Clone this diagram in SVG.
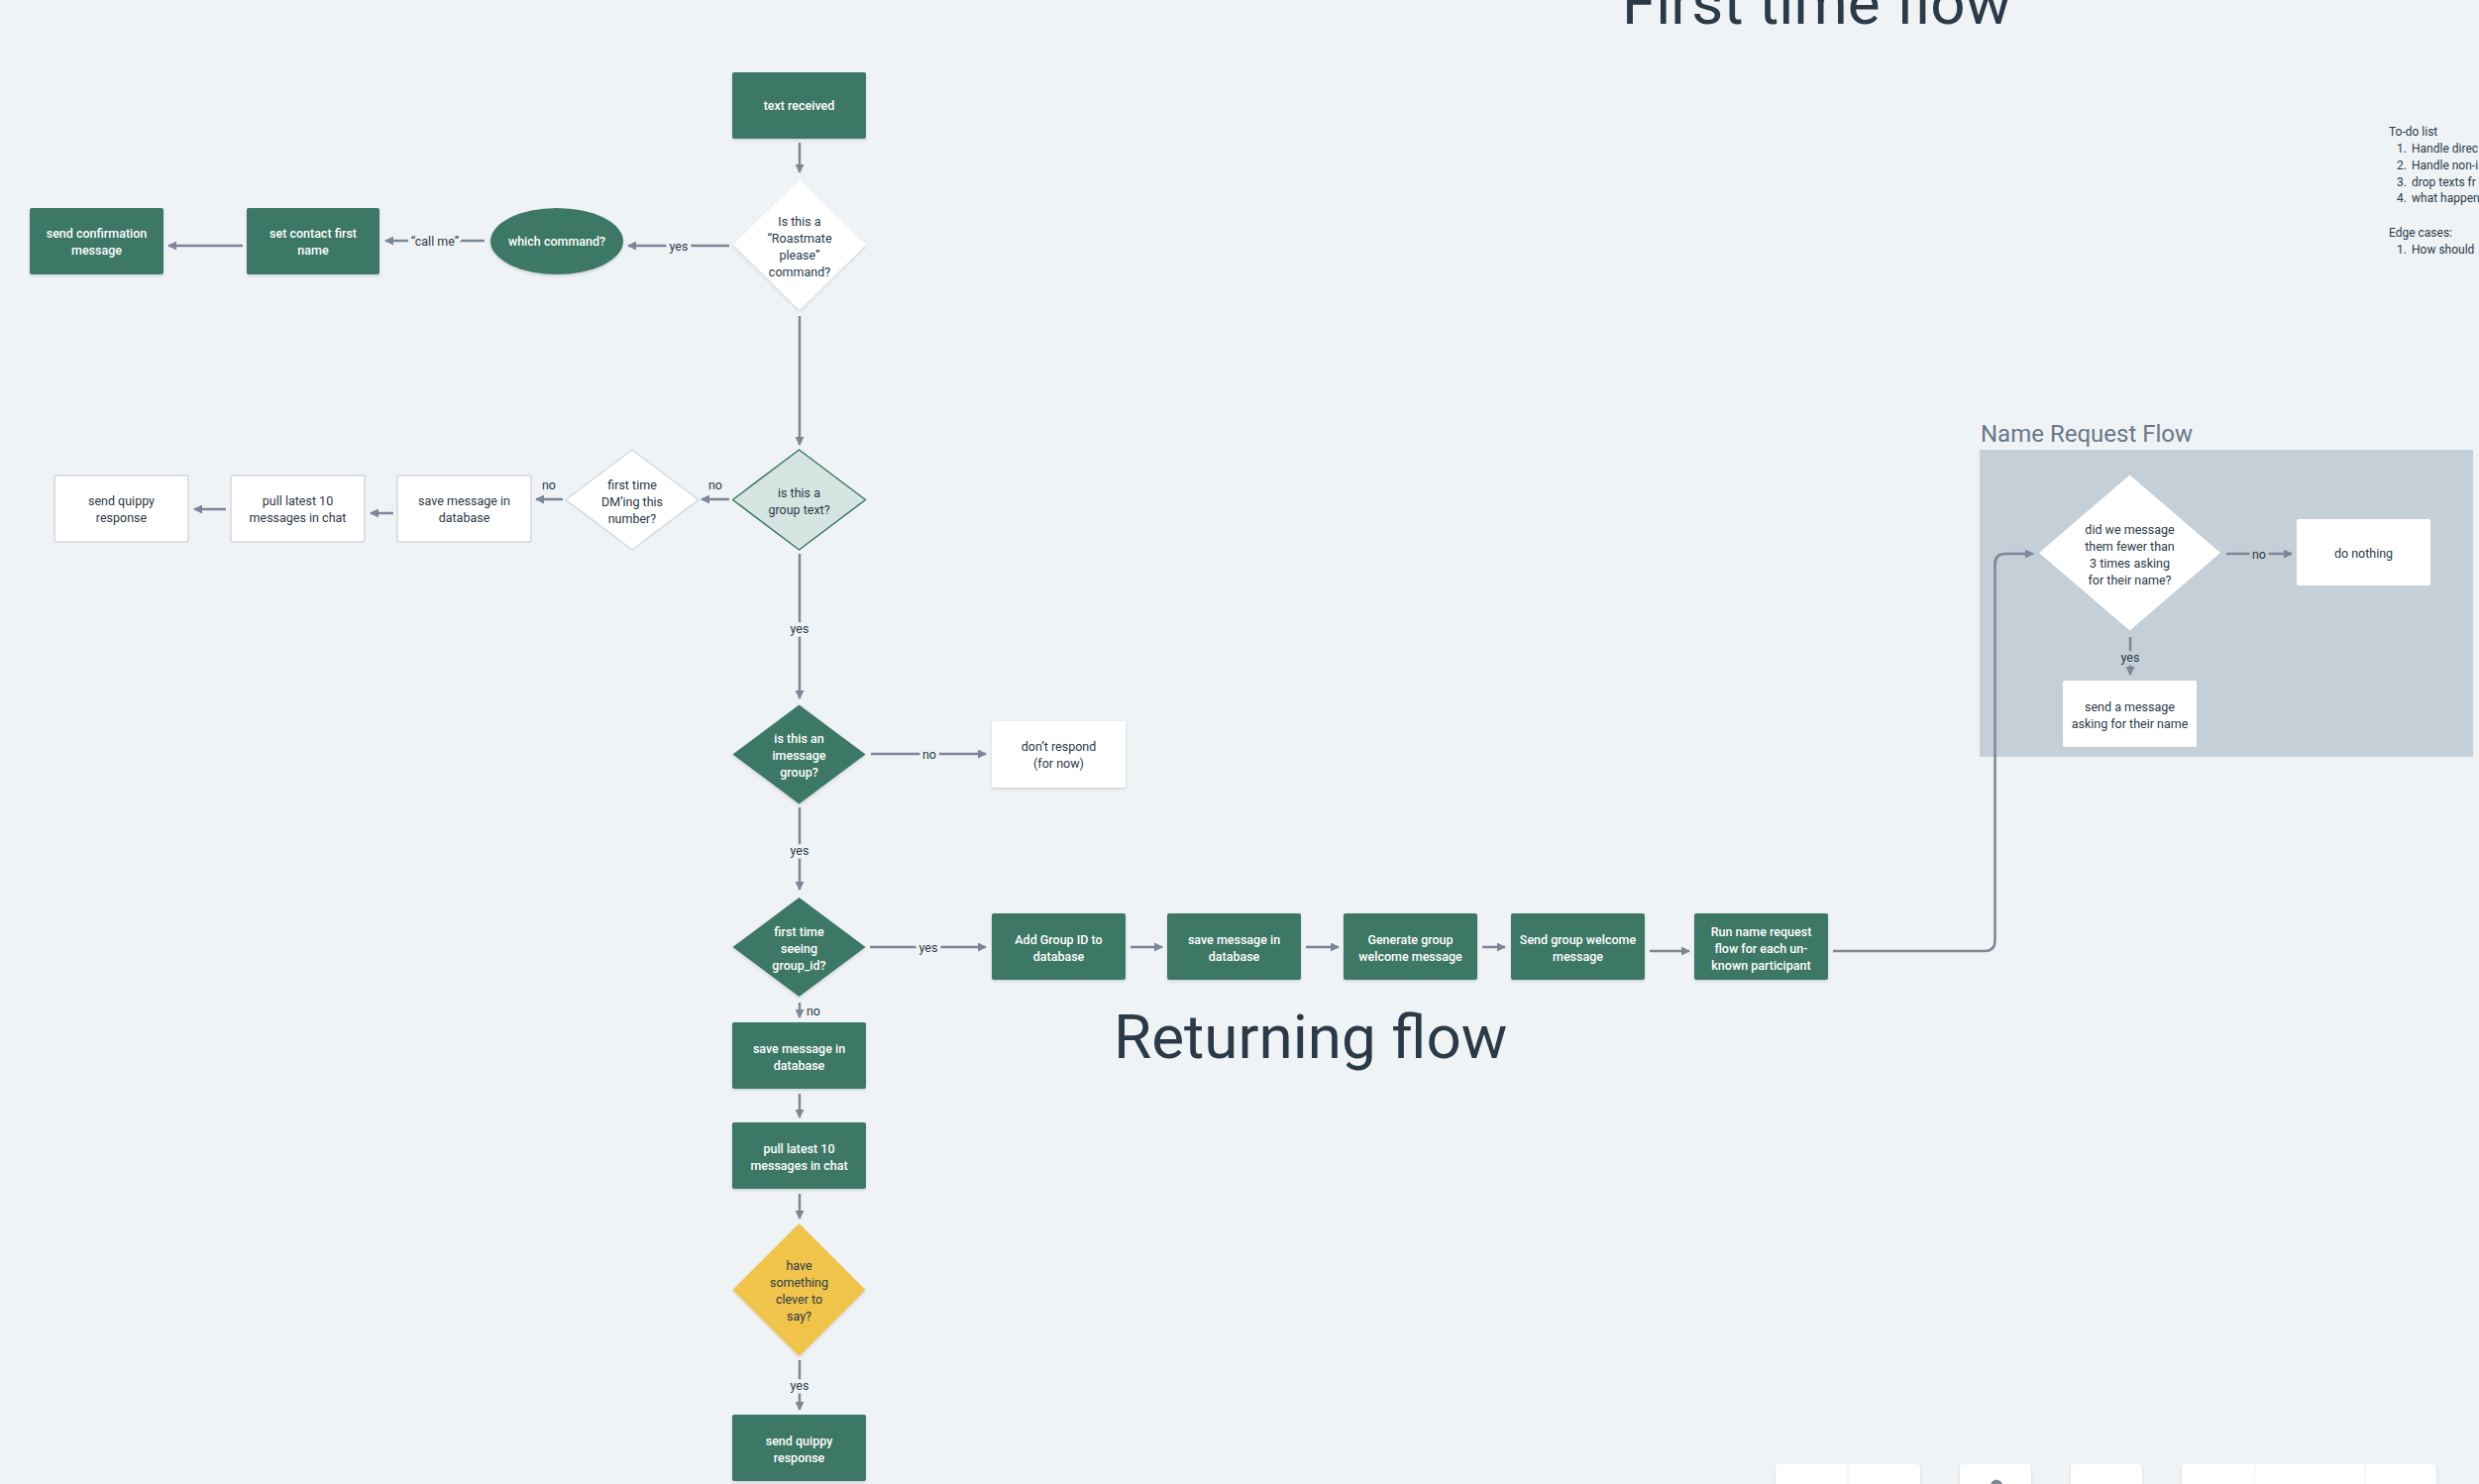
<svg xmlns="http://www.w3.org/2000/svg" width="2502" height="1498" viewBox="0 0 2502 1498">
<defs>
<filter id="sh" x="-10%" y="-10%" width="120%" height="130%">
<feDropShadow dx="0" dy="1.5" stdDeviation="1.5" flood-color="#000" flood-opacity="0.14"/>
</filter>
<marker id="ah" markerUnits="userSpaceOnUse" viewBox="0 0 9 9" refX="8" refY="4.5" markerWidth="9" markerHeight="9" orient="auto">
<path d="M0,0 L9,4.5 L0,9 z" fill="#7c8696"/>
</marker>
<style>
text{font-family:Roboto,"Liberation Sans",sans-serif;}
.dk{fill:#3c7766;filter:url(#sh);}
.wt{fill:#ffffff;filter:url(#sh);}
.wb{fill:#ffffff;stroke:#d2d8de;stroke-width:1.5;}
.tw{fill:#ffffff;font-size:12.5px;font-weight:500;text-anchor:middle;dominant-baseline:central;}
.td{fill:#2c3947;font-size:12.5px;text-anchor:middle;dominant-baseline:central;}
.ln{fill:none;stroke:#7c8696;stroke-width:2.5;}
.ar{fill:none;stroke:#7c8696;stroke-width:2.5;marker-end:url(#ah);}
.lb{fill:#2c3947;font-size:12.5px;text-anchor:middle;dominant-baseline:central;stroke:#eff3f6;stroke-width:7;paint-order:stroke;}
.lbp{fill:#2c3947;font-size:12.5px;text-anchor:middle;dominant-baseline:central;stroke:#c5cfd8;stroke-width:7;paint-order:stroke;}
.lbn{fill:#2c3947;font-size:12.5px;text-anchor:middle;dominant-baseline:central;}
.title{fill:#2c3947;font-size:62px;}
.note{fill:#2c3947;font-size:12px;}
</style>
</defs>
<rect x="0" y="0" width="2502" height="1498" fill="#eff3f6"/>

<!-- titles and notes -->
<text class="title" x="1637" y="24">First time flow</text>
<text class="title" x="1124" y="1068">Returning flow</text>
<g id="todo">
<text class="note" x="2411" y="137">To-do list</text>
<text class="note" x="2419" y="154">1.</text><text class="note" x="2434" y="154">Handle direc</text>
<text class="note" x="2419" y="171">2.</text><text class="note" x="2434" y="171">Handle non-i</text>
<text class="note" x="2419" y="188">3.</text><text class="note" x="2434" y="188">drop texts fr</text>
<text class="note" x="2419" y="204">4.</text><text class="note" x="2434" y="204">what happen</text>
<text class="note" x="2411" y="239">Edge cases:</text>
<text class="note" x="2419" y="256">1.</text><text class="note" x="2434" y="256">How should</text>
</g>

<!-- Name request panel -->
<g id="name-request-panel">
<text x="1999" y="446" fill="#6b7786" font-size="24">Name Request Flow</text>
<rect x="1998" y="454" width="498" height="310" fill="#c5cfd8"/>
</g>

<!-- connectors -->
<g id="connectors">
<line class="ar" x1="807" y1="144" x2="807" y2="174"/>
<line class="ar" x1="736" y1="248" x2="634" y2="248"/>
<text class="lb" x="685" y="248">yes</text>
<line class="ar" x1="489" y1="243" x2="389" y2="243"/>
<text class="lb" x="439" y="243">“call me”</text>
<line class="ar" x1="245" y1="248" x2="170" y2="248"/>
<line class="ar" x1="807" y1="319" x2="807" y2="449"/>
<line class="ar" x1="736" y1="504" x2="708" y2="504"/>
<text class="lbn" x="722" y="489">no</text>
<line class="ar" x1="568" y1="504" x2="541" y2="504"/>
<text class="lbn" x="554" y="489">no</text>
<line class="ar" x1="397" y1="518" x2="374" y2="518"/>
<line class="ar" x1="228" y1="514" x2="196" y2="514"/>
<line class="ar" x1="807" y1="559" x2="807" y2="705"/>
<text class="lb" x="807" y="634">yes</text>
<line class="ar" x1="879" y1="761" x2="995" y2="761"/>
<text class="lb" x="938" y="761">no</text>
<line class="ar" x1="807" y1="815" x2="807" y2="898"/>
<text class="lb" x="807" y="858">yes</text>
<line class="ar" x1="878" y1="956" x2="995" y2="956"/>
<text class="lb" x="937" y="956">yes</text>
<line class="ar" x1="1141" y1="956" x2="1173" y2="956"/>
<line class="ar" x1="1318" y1="956" x2="1351" y2="956"/>
<line class="ar" x1="1496" y1="956" x2="1519" y2="956"/>
<line class="ar" x1="1665" y1="960" x2="1705" y2="960"/>
<path class="ar" d="M1850,960 H2003 Q2013.5,960 2013.5,949.5 V569.5 Q2013.5,559 2024,559 H2052"/>
<line class="ar" x1="807" y1="1012" x2="807" y2="1027"/>
<text class="lbn" x="821" y="1020">no</text>
<line class="ar" x1="807" y1="1104" x2="807" y2="1128"/>
<line class="ar" x1="807" y1="1205" x2="807" y2="1230"/>
<line class="ar" x1="807" y1="1373" x2="807" y2="1423"/>
<text class="lb" x="807" y="1398">yes</text>
<line class="ar" x1="2247" y1="559" x2="2313" y2="559"/>
<text class="lbp" x="2280" y="559">no</text>
<line class="ar" x1="2150" y1="643" x2="2150" y2="681"/>
<text class="lbp" x="2150" y="663">yes</text>
</g>

<!-- first-time flow nodes -->
<g id="text-received">
<rect class="dk" x="739" y="73" width="135" height="67" rx="2"/>
<text class="tw" x="806.5" y="106.5">text received</text>
</g>
<g id="roastmate-command">
<polygon class="wt" points="807,181 874,247 807,313 740,247"/>
<text class="td" x="807" y="223">Is this a</text>
<text class="td" x="807" y="240">“Roastmate</text>
<text class="td" x="807" y="257">please”</text>
<text class="td" x="807" y="274">command?</text>
</g>
<g id="which-command">
<ellipse class="dk" cx="562" cy="243.5" rx="67" ry="33.5"/>
<text class="tw" x="562" y="243.5">which command?</text>
</g>
<g id="set-contact">
<rect class="dk" x="249" y="210" width="134" height="67" rx="2"/>
<text class="tw" x="316" y="235">set contact first</text>
<text class="tw" x="316" y="252">name</text>
</g>
<g id="send-confirmation">
<rect class="dk" x="30" y="210" width="135" height="67" rx="2"/>
<text class="tw" x="97.5" y="235">send confirmation</text>
<text class="tw" x="97.5" y="252">message</text>
</g>
<g id="group-text">
<polygon points="806.5,454 873.5,504.5 806.5,555 739.5,504.5" fill="#d6e5e1" stroke="#3c7766" stroke-width="1.5" stroke-linejoin="round"/>
<text class="td" x="806.5" y="497">is this a</text>
<text class="td" x="806.5" y="514">group text?</text>
</g>
<g id="first-dm">
<polygon points="638,454 705,504.5 638,555 571,504.5" fill="#ffffff" stroke="#d2d8de" stroke-width="1.5" stroke-linejoin="round"/>
<text class="td" x="638" y="489">first time</text>
<text class="td" x="638" y="506">DM’ing this</text>
<text class="td" x="638" y="523">number?</text>
</g>
<g id="dm-save">
<rect class="wb" x="401" y="480" width="135" height="67" rx="2"/>
<text class="td" x="468.5" y="505">save message in</text>
<text class="td" x="468.5" y="522">database</text>
</g>
<g id="dm-pull">
<rect class="wb" x="233" y="480" width="135" height="67" rx="2"/>
<text class="td" x="300.5" y="505">pull latest 10</text>
<text class="td" x="300.5" y="522">messages in chat</text>
</g>
<g id="dm-send">
<rect class="wb" x="55" y="480" width="135" height="67" rx="2"/>
<text class="td" x="122.5" y="505">send quippy</text>
<text class="td" x="122.5" y="522">response</text>
</g>
<g id="imessage-group">
<polygon class="dk" points="806.5,711.5 873.5,761.5 806.5,811.5 739.5,761.5"/>
<text class="tw" x="806.5" y="745.5">is this an</text>
<text class="tw" x="806.5" y="762.5">imessage</text>
<text class="tw" x="806.5" y="779.5">group?</text>
</g>
<g id="dont-respond">
<rect class="wt" x="1001" y="728" width="135" height="67" rx="2"/>
<text class="td" x="1068.5" y="753.5">don’t respond</text>
<text class="td" x="1068.5" y="770.5">(for now)</text>
</g>
<g id="first-group">
<polygon class="dk" points="806.5,906 873.5,956 806.5,1006 739.5,956"/>
<text class="tw" x="806.5" y="940">first time</text>
<text class="tw" x="806.5" y="957">seeing</text>
<text class="tw" x="806.5" y="974">group_id?</text>
</g>
<g id="add-group">
<rect class="dk" x="1001" y="922" width="135" height="67" rx="2"/>
<text class="tw" x="1068.5" y="948">Add Group ID to</text>
<text class="tw" x="1068.5" y="965">database</text>
</g>
<g id="group-save">
<rect class="dk" x="1178" y="922" width="135" height="67" rx="2"/>
<text class="tw" x="1245.5" y="948">save message in</text>
<text class="tw" x="1245.5" y="965">database</text>
</g>
<g id="generate-welcome">
<rect class="dk" x="1356" y="922" width="135" height="67" rx="2"/>
<text class="tw" x="1423.5" y="948">Generate group</text>
<text class="tw" x="1423.5" y="965">welcome message</text>
</g>
<g id="send-welcome">
<rect class="dk" x="1525" y="922" width="135" height="67" rx="2"/>
<text class="tw" x="1592.5" y="948">Send group welcome</text>
<text class="tw" x="1592.5" y="965">message</text>
</g>
<g id="run-name-request">
<rect class="dk" x="1710" y="922" width="135" height="67" rx="2"/>
<text class="tw" x="1777.5" y="940">Run name request</text>
<text class="tw" x="1777.5" y="957">flow for each un-</text>
<text class="tw" x="1777.5" y="974">known participant</text>
</g>

<!-- returning flow nodes -->
<g id="ret-save">
<rect class="dk" x="739" y="1032" width="135" height="67" rx="2"/>
<text class="tw" x="806.5" y="1058">save message in</text>
<text class="tw" x="806.5" y="1075">database</text>
</g>
<g id="ret-pull">
<rect class="dk" x="739" y="1133" width="135" height="67" rx="2"/>
<text class="tw" x="806.5" y="1159">pull latest 10</text>
<text class="tw" x="806.5" y="1176">messages in chat</text>
</g>
<g id="clever">
<polygon points="806.5,1235 873.5,1302 806.5,1369 739.5,1302" fill="#f0c44b" filter="url(#sh)"/>
<text class="td" x="806.5" y="1277">have</text>
<text class="td" x="806.5" y="1294">something</text>
<text class="td" x="806.5" y="1311">clever to</text>
<text class="td" x="806.5" y="1328">say?</text>
</g>
<g id="ret-send">
<rect class="dk" x="739" y="1428" width="135" height="67" rx="2"/>
<text class="tw" x="806.5" y="1454">send quippy</text>
<text class="tw" x="806.5" y="1471">response</text>
</g>

<!-- name request flow nodes -->
<g id="nr-decision">
<polygon points="2149.5,479.5 2241,558 2149.5,636.5 2058,558" fill="#ffffff"/>
<text class="td" x="2149.5" y="534">did we message</text>
<text class="td" x="2149.5" y="551">them fewer than</text>
<text class="td" x="2149.5" y="568">3 times asking</text>
<text class="td" x="2149.5" y="585">for their name?</text>
</g>
<g id="do-nothing">
<rect x="2318" y="524" width="135" height="67" rx="2" fill="#ffffff"/>
<text class="td" x="2385.5" y="558">do nothing</text>
</g>
<g id="ask-name">
<rect x="2082" y="687" width="135" height="67" rx="2" fill="#ffffff"/>
<text class="td" x="2149.5" y="713">send a message</text>
<text class="td" x="2149.5" y="730">asking for their name</text>
</g>

<!-- bottom toolbar -->
<g id="toolbar" fill="#ffffff" filter="url(#sh)">
<rect x="1792" y="1478" width="146" height="40" rx="4"/>
<rect x="1978" y="1478" width="72" height="40" rx="4"/>
<rect x="2090" y="1478" width="72" height="40" rx="4"/>
<rect x="2202" y="1478" width="257" height="40" rx="4"/>
</g>
<g stroke="#eceff3" stroke-width="1">
<line x1="1865" y1="1478" x2="1865" y2="1498"/>
<line x1="2275.5" y1="1478" x2="2275.5" y2="1498"/>
<line x1="2387" y1="1478" x2="2387" y2="1498"/>
</g>
<path d="M2009,1498 L2011,1495 L2015,1493.5 L2019,1495 L2021,1498 z" fill="#7c8696"/>
</svg>
